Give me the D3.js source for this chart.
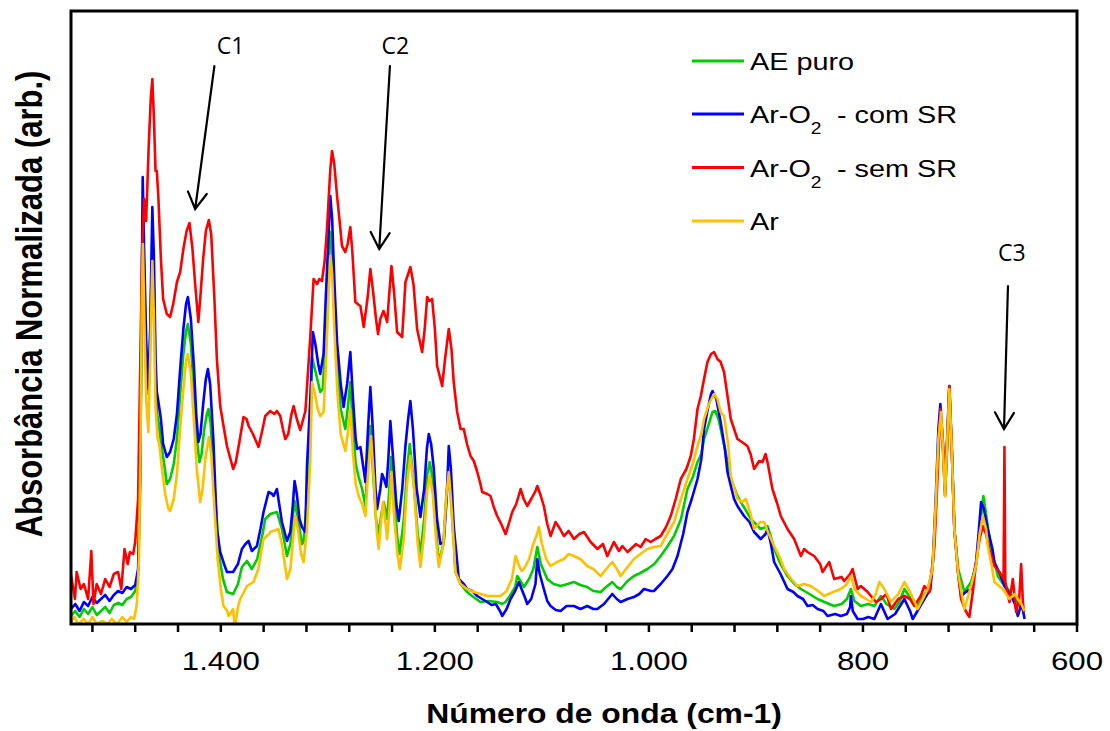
<!DOCTYPE html>
<html>
<head>
<meta charset="utf-8">
<script src="https://cdn.jsdelivr.net/npm/d3@7"></script>
<style>
  body { margin: 0; background: #fff; }
  svg { display: block; }
</style>
</head>
<body>
<svg id="chart" width="1110" height="731"></svg>
<script>
// FTIR spectra: wavenumber (cm-1) vs normalized absorbance (arb. units)

const seriesNames = ["AE puro", "Ar-O2 - com SR", "Ar-O2 - sem SR", "Ar"];
const seriesColors = ["#00cc00", "#0000ff", "#ff0000", "#ffc000"];

// [wavenumber, absorbance]
const aePuro = [[1540,0.08],[1536,0.13],[1532,0.07],[1528,0.15],[1524,0.10],[1520,0.17],[1516,0.09],[1512,0.13],[1508,0.17],[1504,0.11],[1500,0.19],[1496,0.21],[1492,0.19],[1488,0.25],[1484,0.27],[1480,0.33],[1477.3,0.50],[1475.5,1.25],[1474,2.95],[1472.8,3.95],[1471.5,3.45],[1469.8,2.65],[1467.7,2.30],[1466,2.85],[1464,3.85],[1462.5,3.35],[1461,2.45],[1459.5,2.10],[1458,2.00],[1455,1.75],[1452,1.53],[1450.5,1.40],[1447.4,1.45],[1444,1.60],[1441,1.85],[1438,2.30],[1435,2.70],[1432.5,2.93],[1430.8,3.00],[1428,2.80],[1425,2.30],[1422.5,1.85],[1420,1.62],[1418,1.70],[1415.5,1.95],[1413,2.10],[1411.5,2.15],[1409.5,2.00],[1407,1.55],[1403.7,1.05],[1401.5,0.68],[1398,0.45],[1394.3,0.32],[1388.5,0.30],[1384,0.40],[1380.3,0.57],[1375.6,0.63],[1371,0.55],[1366,0.65],[1361,0.90],[1358.5,1.05],[1353.8,1.10],[1347.6,1.12],[1342.9,0.95],[1338.2,0.68],[1335,0.80],[1333,1.05],[1331.1,1.23],[1328,1.05],[1324.2,0.80],[1322.7,0.82],[1319.5,1.25],[1316.4,1.85],[1314.8,2.67],[1311,2.50],[1307.1,2.32],[1304.8,2.35],[1302,2.85],[1299.5,3.45],[1297.7,3.92],[1296,3.75],[1294,3.25],[1291,2.60],[1288,2.15],[1283.7,1.95],[1281.5,2.15],[1279,2.42],[1276.5,1.95],[1274,1.60],[1271.2,1.47],[1268,1.35],[1264.9,1.18],[1262.5,1.65],[1260.3,1.98],[1258,1.55],[1255,1.05],[1252.5,0.90],[1250,1.10],[1247.8,1.22],[1246,1.13],[1244.6,1.05],[1242.5,1.35],[1240.9,1.67],[1238,1.25],[1235,0.85],[1232.8,0.70],[1229,1.05],[1226,1.55],[1223.5,1.80],[1220,1.45],[1216,0.90],[1213.5,0.70],[1210,1.05],[1207,1.50],[1204.8,1.62],[1202,1.45],[1199,0.95],[1196.4,0.62],[1192,0.80],[1189.5,1.25],[1187,1.53],[1185,1.25],[1182,0.75],[1180.8,0.52],[1176,0.40],[1170,0.32],[1164,0.27],[1157.4,0.22],[1150,0.23],[1141.8,0.22],[1137,0.20],[1134,0.22],[1130,0.28],[1125,0.37],[1123,0.48],[1120,0.43],[1116.8,0.37],[1112,0.45],[1108,0.55],[1104.3,0.77],[1101,0.60],[1095,0.45],[1089,0.40],[1082.5,0.38],[1076,0.40],[1070.1,0.42],[1064,0.39],[1057.6,0.37],[1052,0.33],[1045,0.32],[1040,0.37],[1034.2,0.42],[1030,0.37],[1026.4,0.35],[1020,0.43],[1014,0.48],[1008,0.51],[1001.4,0.55],[995,0.60],[989,0.68],[983,0.77],[976.5,0.88],[970,1.05],[964,1.35],[959,1.47],[954.6,1.62],[951,1.70],[948.5,1.85],[944,2.00],[940.6,2.12],[938,2.13],[935,2.05],[932.9,1.95],[928,1.70],[923.5,1.45],[918,1.30],[914.2,1.22],[909,1.13],[904.8,1.05],[900,1.00],[895.5,0.95],[891,0.97],[889.2,0.98],[886,0.87],[883,0.75],[877,0.60],[870.5,0.48],[864,0.40],[858,0.35],[850,0.30],[842.4,0.25],[836,0.22],[826.9,0.18],[820,0.20],[815,0.25],[811.3,0.35],[808,0.23],[801.9,0.18],[795,0.20],[789.4,0.18],[783.2,0.28],[778,0.20],[770.7,0.15],[766,0.22],[761.3,0.35],[755,0.25],[748.8,0.18],[744,0.27],[739.4,0.35],[735,0.55],[732,1.15],[729.5,1.85],[727.7,2.13],[725.5,1.80],[723.3,1.30],[721,1.90],[719.3,2.37],[717,1.75],[714.6,0.95],[711,0.55],[705.2,0.32],[699,0.42],[694,0.60],[691,0.95],[687.5,1.28],[685,1.10],[680.3,0.75],[674,0.48],[669,0.40],[664.6,0.35],[658.5,0.25],[654,0.20],[649.1,0.12]];

const arO2ComSR = [[1540,0.15],[1536,0.20],[1532,0.13],[1528,0.22],[1524,0.18],[1520,0.27],[1516,0.21],[1512,0.25],[1508,0.29],[1504,0.23],[1500,0.29],[1496,0.33],[1492,0.31],[1488,0.37],[1484,0.35],[1480,0.39],[1477.3,0.55],[1475.5,1.45],[1474,3.25],[1473,4.47],[1471.7,3.75],[1469.8,2.85],[1467.7,2.35],[1466,2.95],[1464,4.17],[1462.5,3.65],[1461,2.65],[1459.8,2.32],[1458.3,2.22],[1456,2.05],[1453.9,1.80],[1450.5,1.67],[1447.4,1.72],[1444,1.85],[1441,2.10],[1438,2.55],[1435,2.95],[1432.5,3.20],[1430.8,3.27],[1428,3.05],[1425,2.55],[1423,2.10],[1421,1.82],[1419,1.90],[1416.5,2.20],[1414,2.45],[1412.1,2.55],[1410,2.40],[1407,1.85],[1403.7,0.95],[1400.6,0.72],[1397,0.60],[1394.3,0.52],[1388.5,0.52],[1384,0.60],[1380.3,0.75],[1377,0.80],[1374.1,0.83],[1371,0.73],[1366.3,0.78],[1363,0.95],[1360.1,1.12],[1355.4,1.32],[1352,1.30],[1350.7,1.28],[1347.6,1.35],[1342.9,1.02],[1338.2,0.83],[1335.1,0.92],[1333,1.15],[1331.1,1.43],[1329,1.30],[1326.5,1.05],[1324.2,0.97],[1321.1,0.92],[1319.5,1.58],[1316.4,2.25],[1314,2.92],[1311.7,2.80],[1309,2.60],[1307.1,2.50],[1304,2.70],[1302,3.25],[1299.5,3.85],[1297.7,4.28],[1296,4.05],[1294,3.45],[1291.4,2.82],[1288,2.40],[1285.3,2.17],[1282,2.40],[1279,2.72],[1276.5,2.25],[1274,1.85],[1272.7,1.75],[1269.6,1.77],[1264.9,1.42],[1262.5,1.95],[1260.3,2.37],[1258,1.95],[1255.5,1.35],[1254,1.15],[1251,1.35],[1249.3,1.50],[1247.5,1.45],[1245.3,1.37],[1243.5,1.65],[1241.6,2.03],[1239,1.65],[1236,1.20],[1233.8,1.03],[1230.5,1.35],[1227.5,1.78],[1225,2.05],[1222.9,2.23],[1220.5,1.95],[1217,1.35],[1213.5,1.07],[1210,1.35],[1207.5,1.75],[1205.7,1.90],[1203.5,1.80],[1201,1.55],[1198,1.05],[1194.8,0.80],[1191.7,0.82],[1189,1.25],[1187,1.78],[1185,1.55],[1182.4,0.98],[1179,0.60],[1177.7,0.45],[1173,0.40],[1169.8,0.35],[1165,0.33],[1160.4,0.28],[1155.8,0.25],[1151.1,0.22],[1147,0.19],[1143,0.20],[1138.7,0.12],[1137.1,0.08],[1133,0.15],[1129.3,0.25],[1125,0.33],[1121.5,0.42],[1119,0.35],[1116,0.27],[1113.7,0.20],[1110,0.25],[1106,0.40],[1104.3,0.65],[1102,0.50],[1098.2,0.35],[1095,0.23],[1091.9,0.18],[1087,0.14],[1082.5,0.13],[1077,0.18],[1070.1,0.18],[1064,0.15],[1057.6,0.18],[1052,0.15],[1048.2,0.15],[1042,0.20],[1034.2,0.30],[1030,0.25],[1026.4,0.22],[1020,0.25],[1014,0.27],[1009,0.30],[1004.6,0.35],[998,0.33],[995.3,0.33],[989,0.40],[982.7,0.48],[978,0.55],[973.3,0.68],[968,0.90],[964,1.12],[960,1.25],[954.6,1.45],[951,1.65],[948.5,1.95],[945,2.15],[942,2.30],[940.6,2.33],[937,2.25],[933,2.02],[929,1.75],[926.6,1.52],[923.5,1.38],[920.4,1.25],[917.3,1.18],[911.1,1.08],[906,1.02],[901.7,0.92],[895.5,0.85],[891,0.90],[889.2,0.95],[886,0.80],[883,0.62],[877,0.50],[870.5,0.35],[865,0.32],[861.2,0.28],[856,0.25],[851.8,0.18],[847,0.19],[842.4,0.15],[837,0.13],[833.1,0.08],[826,0.10],[820.6,0.08],[815,0.10],[812,0.17],[811.3,0.28],[809.5,0.13],[805,0.05],[800,0.05],[795,0.07],[789.4,0.05],[783.2,0.20],[777,0.05],[770,0.10],[761.3,0.25],[756,0.13],[753.5,0.05],[748,0.15],[742.6,0.25],[737,0.35],[734.7,0.62],[732,1.25],[729.5,1.95],[727.7,2.20],[725.5,1.85],[723.3,1.35],[721,1.95],[719.3,2.38],[717,1.75],[714.6,0.95],[711,0.50],[708.3,0.28],[704,0.32],[699,0.35],[694.3,0.62],[692,0.90],[689.6,1.22],[687,1.15],[683.4,0.95],[679,0.75],[677.2,0.62],[672,0.50],[667.8,0.38],[661.6,0.28],[658,0.20],[655.3,0.08],[652,0.20],[650.7,0.15],[649,0.05]];

const arO2SemSR = [[1540,0.49],[1536.3,0.25],[1534.7,0.52],[1531,0.35],[1528,0.40],[1524,0.25],[1521,0.73],[1519,0.20],[1516,0.40],[1512,0.30],[1508,0.45],[1504,0.37],[1500,0.50],[1496,0.52],[1493,0.35],[1490,0.75],[1487,0.60],[1485,0.72],[1482,0.70],[1480,0.82],[1477.3,1.25],[1475.5,2.45],[1473.5,3.75],[1471.7,4.25],[1469.8,4.03],[1467.5,4.75],[1465.5,5.25],[1464,5.45],[1462.5,5.05],[1461,4.53],[1459.8,4.53],[1458.3,4.25],[1456,3.65],[1453.9,3.25],[1450.5,3.10],[1447.4,3.07],[1444.5,3.20],[1441,3.42],[1438,3.52],[1435,3.75],[1432,3.93],[1429.3,4.01],[1426.5,3.75],[1424,3.40],[1421,3.02],[1419.3,3.25],[1416.5,3.65],[1414,3.93],[1411.2,4.04],[1409,3.90],[1406,3.25],[1403.7,2.65],[1400.6,2.18],[1397,1.95],[1394.3,1.78],[1391,1.65],[1388.5,1.55],[1386,1.62],[1383,1.80],[1378.8,2.07],[1376,2.05],[1374,1.98],[1370,1.90],[1364.8,1.77],[1361,1.95],[1358.5,2.08],[1353.8,2.13],[1350,2.10],[1347.6,2.13],[1344.5,2.08],[1342,1.95],[1339.8,1.85],[1337,1.90],[1334,2.10],[1332,2.18],[1329,2.05],[1325.8,1.94],[1323,2.05],[1321,2.13],[1319,2.45],[1316.4,2.88],[1313.3,3.45],[1310,3.40],[1308,3.45],[1305.5,3.43],[1303,3.63],[1300.8,3.95],[1299,4.30],[1297.7,4.55],[1296.1,4.73],[1294,4.60],[1291.4,4.28],[1289,4.03],[1286.8,3.78],[1283.7,3.72],[1281.5,3.80],[1279,3.97],[1277,3.70],[1274.3,3.22],[1271,3.19],[1269.6,3.18],[1266.5,2.97],[1263,3.25],[1260.3,3.55],[1258,3.35],[1255,3.05],[1253.1,2.90],[1251,3.05],[1248,3.13],[1246,3.07],[1244.6,3.02],[1243,3.25],[1240.6,3.58],[1238,3.30],[1235.3,2.92],[1230.6,2.87],[1229,3.15],[1227.5,3.42],[1225,3.50],[1222.9,3.57],[1220,3.40],[1216.6,2.95],[1211.9,2.72],[1209.5,2.95],[1207.2,3.27],[1205,3.23],[1202.6,3.25],[1200,2.95],[1197.9,2.58],[1193.2,2.38],[1190.5,2.65],[1187,2.95],[1184.5,2.75],[1182.4,2.42],[1179.2,2.12],[1176,1.95],[1173,1.95],[1170,1.80],[1166.7,1.68],[1163.6,1.63],[1160.4,1.52],[1157.4,1.40],[1155.8,1.32],[1151,1.30],[1148,1.28],[1145,1.17],[1141.8,1.08],[1138,1.00],[1134,0.90],[1131,1.00],[1127.7,1.12],[1124,1.20],[1119.9,1.35],[1117,1.25],[1113.7,1.18],[1110,1.25],[1106,1.33],[1104.3,1.38],[1101,1.28],[1098.2,1.18],[1095,1.00],[1091.9,0.88],[1087.2,1.02],[1083,0.95],[1079.5,0.88],[1075,0.93],[1070,0.85],[1065,0.90],[1060.7,0.92],[1054.5,0.82],[1048,0.75],[1043,0.80],[1038.9,0.68],[1032.7,0.82],[1028,0.73],[1024.8,0.78],[1020,0.72],[1017,0.75],[1012,0.80],[1007.7,0.77],[1003,0.85],[998.3,0.82],[994,0.85],[989,0.88],[984,0.97],[979.6,1.08],[975,1.25],[970.2,1.45],[965,1.55],[960.9,1.68],[958,1.85],[954.6,2.15],[951.5,2.28],[948.5,2.45],[945.3,2.62],[942,2.70],[939.1,2.72],[936,2.65],[933,2.62],[929.8,2.52],[926.6,2.28],[923.5,2.05],[920.4,1.95],[917.3,1.85],[913,1.82],[908,1.78],[905,1.70],[901.7,1.55],[897,1.63],[893.9,1.62],[891,1.70],[889.2,1.62],[884.6,1.35],[880,1.20],[876.8,1.08],[870.5,0.95],[864.3,0.85],[858,0.68],[855,0.75],[851.8,0.72],[845.6,0.68],[840,0.60],[837.8,0.52],[831.5,0.62],[826.9,0.45],[820,0.47],[817.5,0.43],[812,0.50],[809.7,0.55],[805,0.35],[801.9,0.38],[795.6,0.32],[792.5,0.28],[787.8,0.22],[783.2,0.25],[778,0.30],[773.8,0.15],[767,0.25],[761.3,0.28],[756,0.25],[751.9,0.18],[746,0.28],[742.6,0.38],[737.9,0.32],[733.2,0.78],[730,1.55],[727.7,2.15],[725.5,1.85],[723.3,1.28],[721,1.85],[719.3,2.38],[717,1.75],[714.6,0.95],[711,0.50],[708.3,0.25],[704,0.13],[700.6,0.07],[697,0.35],[694.3,0.62],[691,0.85],[688,0.98],[685,0.90],[681.9,0.75],[677.2,0.58],[672.5,0.52],[668.6,0.45],[667.8,1.77],[667,0.42],[663.1,0.22],[660,0.45],[658,0.25],[656.9,0.12],[654,0.25],[652.2,0.60],[650.7,0.25],[649.8,0.12]];

const ar = [[1540,0.02],[1537,0.07],[1533,0.00],[1528,0.05],[1524,0.00],[1520,0.07],[1516,0.00],[1511,0.03],[1506,0.00],[1502,0.05],[1497,0.00],[1492,0.07],[1488,0.02],[1484,0.07],[1481,0.05],[1478.5,0.20],[1476.5,0.65],[1475,1.85],[1473.8,3.25],[1472.8,3.80],[1471.5,3.05],[1469.8,2.25],[1467.7,1.92],[1466,2.65],[1464,3.63],[1462.5,3.05],[1461,2.15],[1459,1.85],[1457.5,1.80],[1455,1.55],[1452,1.30],[1449,1.15],[1447.4,1.13],[1444,1.25],[1441,1.50],[1438,1.95],[1435,2.35],[1432.5,2.63],[1430.8,2.70],[1428,2.50],[1425,2.00],[1422.5,1.55],[1419.3,1.22],[1417,1.35],[1414.5,1.65],[1411.2,1.87],[1409,1.70],[1406.5,1.25],[1403,0.65],[1400,0.35],[1397.5,0.18],[1394,0.13],[1392.8,0.08],[1388.5,0.15],[1387,-0.05],[1384,0.17],[1381.9,0.25],[1378,0.33],[1375.6,0.38],[1369.5,0.42],[1365,0.55],[1360.1,0.85],[1355,0.90],[1353.8,0.92],[1346.1,0.95],[1343,0.80],[1338.2,0.45],[1335,0.55],[1332.5,0.85],[1330.4,1.08],[1328,0.95],[1325,0.70],[1322.7,0.62],[1319.5,0.95],[1316.4,1.65],[1314.8,2.42],[1312,2.30],[1309.5,2.15],[1307.1,2.08],[1304,2.12],[1302,2.55],[1299.5,3.25],[1297.7,3.68],[1296,3.50],[1294,2.95],[1291,2.30],[1288,1.90],[1283.7,1.73],[1281.5,1.90],[1279,2.15],[1276.5,1.70],[1274,1.40],[1271.2,1.28],[1268,1.20],[1264.9,1.08],[1262.5,1.50],[1259.6,1.88],[1257,1.45],[1254.5,0.95],[1252.5,0.75],[1250.5,1.00],[1248.4,1.22],[1246.5,1.05],[1244.6,0.85],[1242.5,1.15],[1240.6,1.52],[1238,1.05],[1235,0.70],[1232.8,0.55],[1229,0.85],[1226,1.40],[1222.9,1.68],[1219.5,1.35],[1216,0.80],[1213.5,0.57],[1210,0.90],[1207,1.35],[1204.8,1.48],[1202,1.30],[1199,0.85],[1196.4,0.57],[1192,0.80],[1189.5,1.25],[1187,1.52],[1185,1.25],[1182,0.75],[1180.8,0.52],[1176,0.40],[1170,0.35],[1163.6,0.32],[1157,0.30],[1151.1,0.28],[1145,0.28],[1138.7,0.28],[1133,0.33],[1128,0.45],[1124.6,0.68],[1122,0.60],[1119,0.53],[1116.8,0.55],[1112,0.65],[1108,0.80],[1104.5,0.90],[1102.8,0.97],[1100,0.80],[1096,0.65],[1091.9,0.58],[1086,0.62],[1079.5,0.65],[1075,0.70],[1070.1,0.68],[1064,0.65],[1057.6,0.58],[1052,0.55],[1045.1,0.48],[1040,0.55],[1034.2,0.62],[1030,0.55],[1026.4,0.48],[1020,0.57],[1014,0.65],[1008,0.70],[1001.4,0.75],[995,0.77],[989,0.78],[983,0.90],[976.5,1.02],[970,1.25],[964,1.45],[959,1.60],[954.6,1.78],[951,1.90],[948.5,2.05],[944,2.20],[939.1,2.30],[936,2.25],[933,2.12],[929.8,2.08],[926,1.80],[923.5,1.48],[917.3,1.25],[913,1.22],[909.5,1.25],[905,1.10],[901.7,0.95],[896,1.02],[892.4,1.02],[888,0.90],[883,0.78],[877,0.65],[873.7,0.55],[867,0.45],[861.2,0.38],[855,0.40],[848.7,0.38],[842,0.33],[836.2,0.28],[828,0.32],[820.6,0.35],[815,0.40],[811.3,0.48],[808,0.35],[801.9,0.28],[797,0.25],[792.5,0.22],[788,0.30],[784.7,0.42],[780,0.35],[773.8,0.22],[767,0.30],[761.3,0.42],[755,0.30],[748.8,0.15],[744,0.25],[739.4,0.35],[735,0.55],[732,1.20],[729.5,1.85],[727,2.12],[725.5,1.80],[723.3,1.28],[721,1.90],[719.3,2.35],[717,1.75],[714.6,0.95],[711,0.50],[705.2,0.15],[699,0.38],[694,0.60],[691,0.90],[688,1.08],[685,0.95],[683.4,0.78],[680,0.60],[677.2,0.42],[669.3,0.35],[663.1,0.25],[658,0.30],[655.3,0.25],[652,0.20],[649.1,0.13]];

const seriesData = [aePuro, arO2ComSR, arO2SemSR, ar];

// axis settings
const xDomain = [1540, 600];
const yDomain = [0, 6.13];
const tickValues = d3.range(1520, 599, -40);
const labelValues = [1400, 1200, 1000, 800, 600];

// callouts: label, label anchor, arrow tail, arrow tip (data units)
const callouts = [
  { label: "C1", wn: 1391, abs: 5.70, from: [1406, 5.58], to: [1424, 4.15] },
  { label: "C2", wn: 1237, abs: 5.70, from: [1242, 5.58], to: [1252, 3.75] },
  { label: "C3", wn: 661, abs: 3.63, from: [664.5, 3.38], to: [668.2, 1.95] }
];

const plot = { left: 71, right: 1077, top: 11, bottom: 624 };
const x = d3.scaleLinear().domain(xDomain).range([plot.left, plot.right]);
const y = d3.scaleLinear().domain(yDomain).range([plot.bottom, plot.top]);

const svg = d3.select("#chart");
const FONT = "'Liberation Sans', Arial, Helvetica, sans-serif";
const STRETCH = 1.2;

svg.append("defs").append("clipPath").attr("id", "plotClip")
  .append("rect")
  .attr("x", plot.left).attr("y", plot.top)
  .attr("width", plot.right - plot.left).attr("height", plot.bottom - plot.top);

const line = d3.line().x(d => x(d[0])).y(d => y(d[1]));

const lines = svg.append("g").attr("clip-path", "url(#plotClip)");
seriesData.forEach((data, i) => {
  lines.append("path")
    .datum(data)
    .attr("d", line)
    .attr("fill", "none")
    .attr("stroke", seriesColors[i])
    .attr("stroke-width", 2.6)
    .attr("stroke-linejoin", "round");
});

// frame
svg.append("rect")
  .attr("x", plot.left).attr("y", plot.top)
  .attr("width", plot.right - plot.left).attr("height", plot.bottom - plot.top)
  .attr("fill", "none").attr("stroke", "#000").attr("stroke-width", 3);

// bottom axis ticks and labels
const fmt = d3.formatLocale({ decimal: ",", thousands: ".", grouping: [3], currency: ["R$", ""] }).format(",.0f");
const axis = svg.append("g");
axis.selectAll("line.tick").data(tickValues).join("line")
  .attr("x1", d => x(d)).attr("x2", d => x(d))
  .attr("y1", plot.bottom).attr("y2", plot.bottom + 8)
  .attr("stroke", "#000").attr("stroke-width", 2.5);
axis.selectAll("text").data(labelValues).join("text")
  .attr("transform", d => `translate(${x(d)},${670}) scale(${STRETCH},1)`)
  .attr("text-anchor", "middle")
  .attr("font-family", FONT).attr("font-size", 26)
  .attr("fill", "#000")
  .text(d => fmt(d));

// axis titles
svg.append("text")
  .attr("transform", `translate(604,723) scale(1.18,1)`)
  .attr("text-anchor", "middle")
  .attr("font-family", FONT).attr("font-size", 27).attr("font-weight", "bold")
  .text("Número de onda (cm-1)");

svg.append("text")
  .attr("transform", `translate(42,304) scale(${STRETCH},1) rotate(-90)`)
  .attr("text-anchor", "middle")
  .attr("font-family", FONT).attr("font-size", 31).attr("font-weight", "bold")
  .text("Absorbância Normalizada (arb.)");

// legend
const legendY = [61, 114, 167.5, 221];
const legend = svg.append("g");
seriesNames.forEach((name, i) => {
  const ly = legendY[i];
  legend.append("line")
    .attr("x1", 692).attr("x2", 744).attr("y1", ly).attr("y2", ly)
    .attr("stroke", seriesColors[i]).attr("stroke-width", 3);
  const t = legend.append("text")
    .attr("transform", `translate(750,${ly + 9.3}) scale(${STRETCH},1)`)
    .attr("font-family", FONT).attr("font-size", 24).attr("fill", "#000");
  const m = name.match(/^(.*O)2(.*)$/);
  if (m) {
    t.append("tspan").text(m[1]);
    t.append("tspan").attr("font-size", 16).attr("dy", 11).text("2");
    t.append("tspan").attr("dy", -11).attr("dx", 13).text(m[2].trim());
  } else {
    t.text(name);
  }
});

// callout arrows
const ann = svg.append("g");
callouts.forEach(c => {
  ann.append("text")
    .attr("x", x(c.wn)).attr("y", y(c.abs))
    .attr("text-anchor", "middle")
    .attr("font-family", "'Open Sans', 'Noto Sans', sans-serif").attr("font-size", 23)
    .attr("fill", "#000")
    .text(c.label);
  const x0 = x(c.from[0]), y0 = y(c.from[1]);
  const x1 = x(c.to[0]), y1 = y(c.to[1]);
  const ang = Math.atan2(y0 - y1, x0 - x1);
  const len = 19, spread = Math.PI / 6;
  const a1 = [x1 + len * Math.cos(ang - spread), y1 + len * Math.sin(ang - spread)];
  const a2 = [x1 + len * Math.cos(ang + spread), y1 + len * Math.sin(ang + spread)];
  ann.append("path")
    .attr("d", `M${x0},${y0}L${x1},${y1}M${a1[0]},${a1[1]}L${x1},${y1}L${a2[0]},${a2[1]}`)
    .attr("fill", "none").attr("stroke", "#000").attr("stroke-width", 2.2)
    .attr("stroke-linecap", "round").attr("stroke-linejoin", "miter");
});
</script>
</body>
</html>
